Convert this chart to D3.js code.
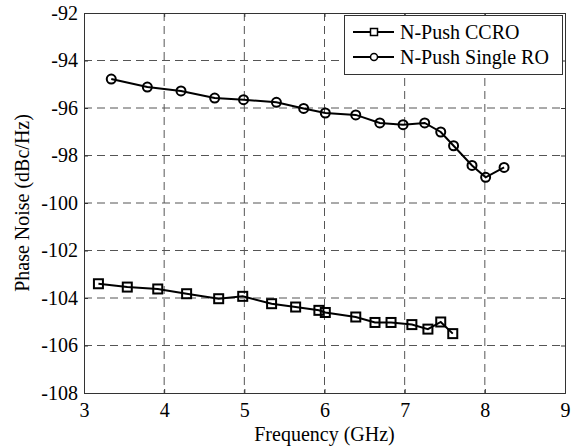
<!DOCTYPE html>
<html>
<head>
<meta charset="utf-8">
<script src="https://cdn.jsdelivr.net/npm/d3@7"></script>
<style>
    body { margin: 0; background: #fff; }
    svg text { font-family: 'Liberation Serif', 'DejaVu Serif', serif !important; fill: #000; }
</style>
</head>
<body>
<div id="chart"></div>
<script>
// 数据
var xTicks = [3, 4, 5, 6, 7, 8, 9];
var yTicks = [-108, -106, -104, -102, -100, -98, -96, -94, -92];

var ccroFreq = [3.18, 3.54, 3.92, 4.28, 4.68, 4.98, 5.34, 5.64, 5.93, 6.01, 6.39, 6.63, 6.83, 7.09, 7.29, 7.45, 7.60];
var ccroNoise = [-103.40, -103.54, -103.62, -103.82, -104.03, -103.93, -104.24, -104.38, -104.52, -104.61, -104.80, -105.03, -105.03, -105.12, -105.31, -105.01, -105.50];

var singleFreq = [3.34, 3.79, 4.21, 4.63, 4.99, 5.40, 5.74, 6.01, 6.39, 6.69, 6.98, 7.25, 7.45, 7.61, 7.84, 8.01, 8.24];
var singleNoise = [-94.78, -95.12, -95.28, -95.58, -95.65, -95.76, -96.02, -96.21, -96.29, -96.63, -96.70, -96.63, -97.01, -97.59, -98.42, -98.92, -98.50];

var seriesNames = ["N-Push CCRO", "N-Push Single RO"];

var margin = { top: 13, right: 20, bottom: 54, left: 84 };
var width = 585 - margin.left - margin.right;
var height = 447 - margin.top - margin.bottom;

var svg = d3.select("#chart").append("svg")
    .attr("width", 585)
    .attr("height", 447);

var g = svg.append("g")
    .attr("transform", "translate(" + margin.left + "," + margin.top + ")");

var x = d3.scaleLinear().domain([3, 9]).range([0, width]);
var y = d3.scaleLinear().domain([-108, -92]).range([height, 0]);

// 网格线
g.append("g").selectAll("line")
    .data(xTicks.slice(1, -1))
    .enter().append("line")
    .attr("x1", d => x(d)).attr("x2", d => x(d))
    .attr("y1", 0).attr("y2", height)
    .attr("stroke", "#555").attr("stroke-width", 1)
    .attr("stroke-dasharray", "8,5");
g.append("g").selectAll("line")
    .data(yTicks.slice(1, -1))
    .enter().append("line")
    .attr("y1", d => y(d)).attr("y2", d => y(d))
    .attr("x1", 0).attr("x2", width)
    .attr("stroke", "#555").attr("stroke-width", 1)
    .attr("stroke-dasharray", "8,5");

// 坐标轴
var xAxis = g.append("g")
    .attr("transform", "translate(0," + height + ")")
    .call(d3.axisBottom(x).tickValues(xTicks).tickSize(-4).tickPadding(10).tickFormat(d3.format("d")));
var xAxisTop = g.append("g")
    .call(d3.axisTop(x).tickValues(xTicks).tickSize(-4).tickFormat(""));
var yAxis = g.append("g")
    .call(d3.axisLeft(y).tickValues(yTicks).tickSize(-4).tickPadding(6).tickFormat(d => d));
var yAxisRight = g.append("g")
    .attr("transform", "translate(" + width + ",0)")
    .call(d3.axisRight(y).tickValues(yTicks).tickSize(-4).tickFormat(""));

[xAxis, xAxisTop, yAxis, yAxisRight].forEach(function (a) {
    a.attr("font-family", null).attr("font-size", null);
    a.select(".domain").attr("stroke", "#333");
    a.selectAll(".tick line").attr("stroke", "#333");
    a.selectAll(".tick text")
        .style("font-size", "20px")
        .attr("fill", "#000");
});

// 折线
var line = d3.line()
    .x(d => x(d[0]))
    .y(d => y(d[1]));

var ccroData = ccroFreq.map((f, i) => [f, ccroNoise[i]]);
var singleData = singleFreq.map((f, i) => [f, singleNoise[i]]);

g.append("path")
    .datum(ccroData)
    .attr("fill", "none")
    .attr("stroke", "#000")
    .attr("stroke-width", 2)
    .attr("d", line);

g.selectAll(".sq")
    .data(ccroData)
    .enter().append("rect")
    .attr("class", "sq")
    .attr("x", d => x(d[0]) - 4.5)
    .attr("y", d => y(d[1]) - 4.5)
    .attr("width", 9)
    .attr("height", 9)
    .attr("fill", "none")
    .attr("stroke", "#000")
    .attr("stroke-width", 2);

g.append("path")
    .datum(singleData)
    .attr("fill", "none")
    .attr("stroke", "#000")
    .attr("stroke-width", 2)
    .attr("d", line);

g.selectAll(".dot")
    .data(singleData)
    .enter().append("circle")
    .attr("class", "dot")
    .attr("cx", d => x(d[0]))
    .attr("cy", d => y(d[1]))
    .attr("r", 4.5)
    .attr("fill", "none")
    .attr("stroke", "#000")
    .attr("stroke-width", 2);

// 图例
var legend = svg.append("g");
legend.append("rect")
    .attr("x", 344.5).attr("y", 15.5)
    .attr("width", 218).attr("height", 59)
    .attr("fill", "#fff")
    .attr("stroke", "#333")
    .attr("stroke-width", 1);

seriesNames.forEach(function (name, i) {
    var ly = 32 + i * 25;
    legend.append("line")
        .attr("x1", 353).attr("x2", 394)
        .attr("y1", ly).attr("y2", ly)
        .attr("stroke", "#000").attr("stroke-width", 2);
    if (i === 0) {
        legend.append("rect")
            .attr("x", 370.5).attr("y", ly - 3.5)
            .attr("width", 7).attr("height", 7)
            .attr("fill", "#fff").attr("stroke", "#000").attr("stroke-width", 1.5);
    } else {
        legend.append("circle")
            .attr("cx", 374).attr("cy", ly).attr("r", 3.5)
            .attr("fill", "#fff").attr("stroke", "#000").attr("stroke-width", 1.5);
    }
    legend.append("text")
        .attr("x", 400).attr("y", ly + 7)
        .style("font-size", "20px")
        .text(name);
});

// 坐标轴标题
svg.append("text")
    .attr("x", margin.left + width / 2)
    .attr("y", 441)
    .style("text-anchor", "middle")
    .style("font-size", "20px")
    .text("Frequency (GHz)");

svg.append("text")
    .attr("transform", "translate(29," + (margin.top + height / 2) + ") rotate(-90)")
    .style("text-anchor", "middle")
    .style("font-size", "20px")
    .text("Phase Noise (dBc/Hz)");
</script>
</body>
</html>
